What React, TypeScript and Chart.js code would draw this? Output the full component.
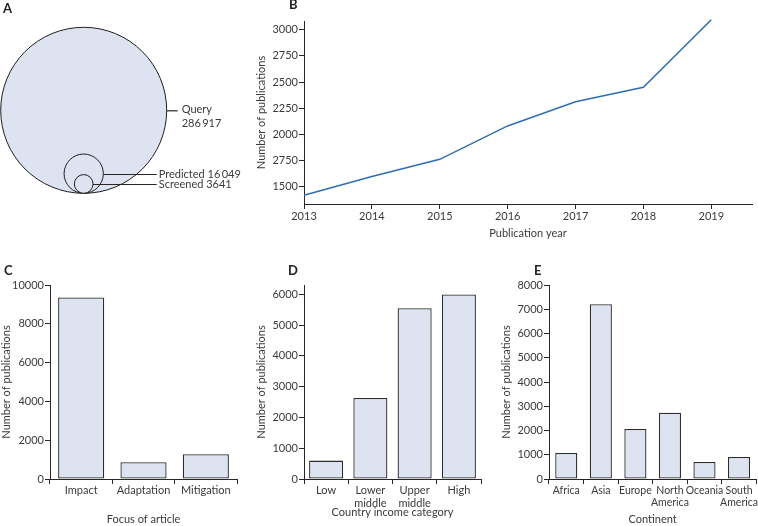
import React, { useEffect, useRef } from "react";
import { Chart, registerables } from "chart.js";

Chart.register(...registerables);

// ---------- data ----------
// Panel A: nested sets (area proportional to count)
const SET_LABELS = ["Query", "Predicted", "Screened"];
const SET_COUNTS = [286917, 16049, 3641];
const SET_COUNT_TEXT = ["286\u2009917", "16\u2009049", "3641"];

// Panel B: publications per year
const YEARS = [2013, 2014, 2015, 2016, 2017, 2018, 2019];
const PUBS_PER_YEAR = [1417, 1596, 1761, 2080, 2312, 2449, 3095];
const B_Y_TICKS = [1500, 1750, 2000, 2250, 2500, 2750, 3000];
const B_Y_TICK_LABELS = ["1500", "2750", "2000", "2250", "2500", "2750", "3000"];

// Panel C: focus of article
const FOCUS = ["Impact", "Adaptation", "Mitigation"];
const FOCUS_PUBS = [9360, 860, 1275];
const C_Y_TICKS = [0, 2000, 4000, 6000, 8000, 10000];

// Panel D: country income category
const INCOME = ["Low", ["Lower", "middle"], ["Upper", "middle"], "High"];
const INCOME_PUBS = [598, 2632, 5548, 5990];
const D_Y_TICKS = [0, 1000, 2000, 3000, 4000, 5000, 6000];

// Panel E: continent
const CONTINENTS = ["Africa", "Asia", "Europe", ["North", "America"], "Oceania", ["South", "America"]];
const CONTINENT_PUBS = [1077, 7210, 2060, 2735, 705, 912];
const E_Y_TICKS = [0, 1000, 2000, 3000, 4000, 5000, 6000, 7000, 8000];

// ---------- styles ----------
const FONT_FAMILY = "Lato, 'Open Sans', 'Liberation Sans', sans-serif";
const TEXT = "#3a3a3a";
const AXIS = "#262626";
const FILL = "#dde3f1";
const BLUE = "#2f6db5";
const font = { family: FONT_FAMILY, size: 11, lineHeight: 1.2 };

function yAxis(ticks: number[], labels: string[] | null, min: number, max: number, width: number, titlePad: number) {
  return {
    type: "linear" as const,
    min,
    max,
    z: 1,
    afterBuildTicks: (s: any) => {
      s.ticks = ticks.map((v) => ({ value: v }));
    },
    afterFit: (s: any) => {
      s.width = width;
    },
    border: { display: true, color: AXIS, width: 1 },
    grid: { display: true, drawOnChartArea: false, drawTicks: true, tickLength: 5, tickColor: AXIS, tickWidth: 1 },
    ticks: {
      font,
      color: TEXT,
      padding: 1,
      callback: (v: any, i: number) => (labels ? labels[i] : String(v)),
    },
    title: {
      display: true,
      text: "Number of publications",
      font,
      color: TEXT,
      padding: { top: titlePad, bottom: 0 },
    },
  };
}

function catAxis(height: number, title: string, titlePadBottom: number, tickSize: number) {
  return {
    type: "category" as const,
    z: 1,
    afterFit: (s: any) => {
      s.height = height;
    },
    border: { display: true, color: AXIS, width: 1 },
    grid: { display: true, offset: true, drawOnChartArea: false, drawTicks: true, tickLength: 5, tickColor: AXIS, tickWidth: 1 },
    ticks: {
      font: { ...font, size: tickSize },
      color: TEXT,
      padding: 0,
      autoSkip: false,
      maxRotation: 0,
      minRotation: 0,
    },
    title: { display: true, text: title, font, color: TEXT, padding: { top: 0, bottom: titlePadBottom } },
  };
}

function barConfig(
  labels: any[],
  values: number[],
  yTicks: number[],
  yMax: number,
  barPct: number,
  yWidth: number,
  yTitlePad: number,
  xHeight: number,
  xTitle: string,
  xTitlePad: number,
  padTop: number,
  padRight: number,
  tickSize: number
): any {
  return {
    type: "bar",
    data: {
      labels,
      datasets: [
        {
          data: values,
          backgroundColor: FILL,
          borderColor: "#2e2e2e",
          borderWidth: 1.3,
          borderSkipped: false,
          barPercentage: barPct,
          categoryPercentage: 1,
        },
      ],
    },
    options: {
      responsive: false,
      animation: false,
      devicePixelRatio: 1,
      events: [],
      layout: { padding: { top: padTop, right: padRight, bottom: 0, left: 0 } },
      plugins: { legend: { display: false }, tooltip: { enabled: false } },
      scales: {
        x: catAxis(xHeight, xTitle, xTitlePad, tickSize),
        y: yAxis(yTicks, null, 0, yMax, yWidth, yTitlePad),
      },
    },
  };
}

function ChartBox({ left, top, width, height, config }: any) {
  const ref = useRef<HTMLCanvasElement | null>(null);
  useEffect(() => {
    if (!ref.current) return;
    const chart = new Chart(ref.current, config);
    return () => chart.destroy();
  }, []);
  return (
    <div style={{ position: "absolute", left, top, width, height }}>
      <canvas ref={ref} width={width} height={height} style={{ width, height, display: "block" }} />
    </div>
  );
}

// ---------- Panel A config ----------
const A_W = 250;
const A_H = 250;
const SET_R = SET_COUNTS.map((c) => Math.sqrt(c));
const A_PX_PER_UNIT = 83 / SET_R[0];
const A_CX = 83.7;
const A_BOTTOM = 193.3;

const vennLabels = {
  id: "vennLabels",
  afterDatasetsDraw(chart: any) {
    const { ctx } = chart;
    const xs = chart.scales.x;
    const ys = chart.scales.y;
    ctx.save();
    ctx.strokeStyle = AXIS;
    ctx.lineWidth = 1.2;
    ctx.fillStyle = TEXT;
    ctx.font = `11px ${FONT_FAMILY}`;
    ctx.textBaseline = "middle";
    ctx.textAlign = "left";
    const qx = xs.getPixelForValue(SET_R[0]);
    const qy = ys.getPixelForValue(SET_R[0]);
    ctx.beginPath();
    ctx.moveTo(qx, qy + 0.5);
    ctx.lineTo(qx + 11, qy + 0.5);
    ctx.stroke();
    ctx.fillText(SET_LABELS[0], qx + 15, qy - 0.5);
    ctx.fillText(SET_COUNT_TEXT[0], qx + 15, qy + 13.5);
    const labelX = qx - 8;
    for (let i = 1; i < SET_R.length; i++) {
      const px = xs.getPixelForValue(SET_R[i]);
      const py = Math.round(ys.getPixelForValue(SET_R[i])) + 0.5;
      ctx.beginPath();
      ctx.moveTo(px, py);
      ctx.lineTo(labelX - 2, py);
      ctx.stroke();
      ctx.fillText(`${SET_LABELS[i]} ${SET_COUNT_TEXT[i]}`, labelX, py);
    }
    ctx.restore();
  },
};

// radius of each set circle in pixels, via the x scale
function setRadiusPx(chart: any, i: number) {
  const s = chart.scales.x;
  return s.getPixelForValue(SET_R[i]) - s.getPixelForValue(0);
}

const configA: any = {
  type: "bubble",
  data: {
    datasets: [
      {
        data: SET_R.map((r) => ({ x: 0, y: r, r: r * A_PX_PER_UNIT })),
        backgroundColor: FILL,
        borderColor: "#1e1e1e",
        borderWidth: 1,
        hoverBorderWidth: 1,
        hoverRadius: 0,
        clip: false,
      },
    ],
  },
  options: {
    responsive: false,
    animation: false,
    devicePixelRatio: 1,
    events: [],
    layout: { padding: 0, autoPadding: false },
    plugins: { legend: { display: false }, tooltip: { enabled: false } },
    scales: {
      x: { type: "linear", display: false, min: -A_CX / A_PX_PER_UNIT, max: (A_W - A_CX) / A_PX_PER_UNIT },
      y: { type: "linear", display: false, min: -(A_H - A_BOTTOM) / A_PX_PER_UNIT, max: A_BOTTOM / A_PX_PER_UNIT },
    },
  },
  plugins: [
    {
      id: "syncRadius",
      beforeDatasetsDraw(chart: any) {
        const meta = chart.getDatasetMeta(0);
        meta.data.forEach((el: any, i: number) => {
          if (el.options) el.options.radius = setRadiusPx(chart, i);
        });
      },
    },
    vennLabels,
  ],
};

// ---------- Panel B config ----------
const configB: any = {
  type: "line",
  data: {
    datasets: [
      {
        data: YEARS.map((y, i) => ({ x: y, y: PUBS_PER_YEAR[i] })),
        borderColor: BLUE,
        borderWidth: 1.5,
        pointRadius: 0,
        tension: 0,
        fill: false,
        clip: false,
      },
    ],
  },
  options: {
    responsive: false,
    animation: false,
    devicePixelRatio: 1,
    events: [],
    layout: { padding: { top: 21, right: 6, bottom: 0, left: 0 }, autoPadding: false },
    plugins: { legend: { display: false }, tooltip: { enabled: false } },
    scales: {
      x: {
        type: "linear",
        min: 2013,
        max: 2019.6,
        afterBuildTicks: (s: any) => {
          s.ticks = YEARS.map((v) => ({ value: v }));
        },
        afterFit: (s: any) => {
          s.height = 46;
        },
        border: { display: true, color: AXIS, width: 1 },
        grid: { display: true, drawOnChartArea: false, drawTicks: true, tickLength: 5, tickColor: AXIS, tickWidth: 1 },
        ticks: { font, color: TEXT, padding: 1, autoSkip: false, maxRotation: 0, callback: (v: any) => String(v) },
        title: { display: true, text: "Publication year", font, color: TEXT, padding: { top: 0, bottom: 10 } },
      },
      y: yAxis(B_Y_TICKS, B_Y_TICK_LABELS, 1334, 3083, 74, 25),
    },
  },
};

const configC = barConfig(FOCUS, FOCUS_PUBS, C_Y_TICKS, 10000, 0.74, 50, 0, 47, "Focus of article", 0, 30, 13, 11);
const configD = barConfig(INCOME, INCOME_PUBS, D_Y_TICKS, 6300, 0.77, 54, 5, 47, "Country income category", 6.5, 30, 19, 11);
const configE = barConfig(CONTINENTS, CONTINENT_PUBS, E_Y_TICKS, 8000, 0.64, 49, 0, 47, "Continent", 0, 30, 0.5, 10.5);

const letterStyle: any = {
  position: "absolute",
  fontFamily: FONT_FAMILY,
  fontWeight: 700,
  fontSize: 13,
  lineHeight: "13px",
  color: "#222",
};

export default function App() {
  return (
    <div style={{ position: "absolute", left: 0, top: 0, width: 758, height: 526, background: "#fff", overflow: "hidden" }}>
      <ChartBox left={0} top={0} width={A_W} height={A_H} config={configA} />
      <ChartBox left={230} top={0} width={528} height={250} config={configB} />
      <ChartBox left={0} top={255} width={250} height={271} config={configC} />
      <ChartBox left={250} top={255} width={250} height={271} config={configD} />
      <ChartBox left={500} top={255} width={258} height={271} config={configE} />
      <div style={{ ...letterStyle, left: 3, top: 2 }}>A</div>
      <div style={{ ...letterStyle, left: 289, top: -2 }}>B</div>
      <div style={{ ...letterStyle, left: 4, top: 264 }}>C</div>
      <div style={{ ...letterStyle, left: 288, top: 264 }}>D</div>
      <div style={{ ...letterStyle, left: 534, top: 264 }}>E</div>
    </div>
  );
}
